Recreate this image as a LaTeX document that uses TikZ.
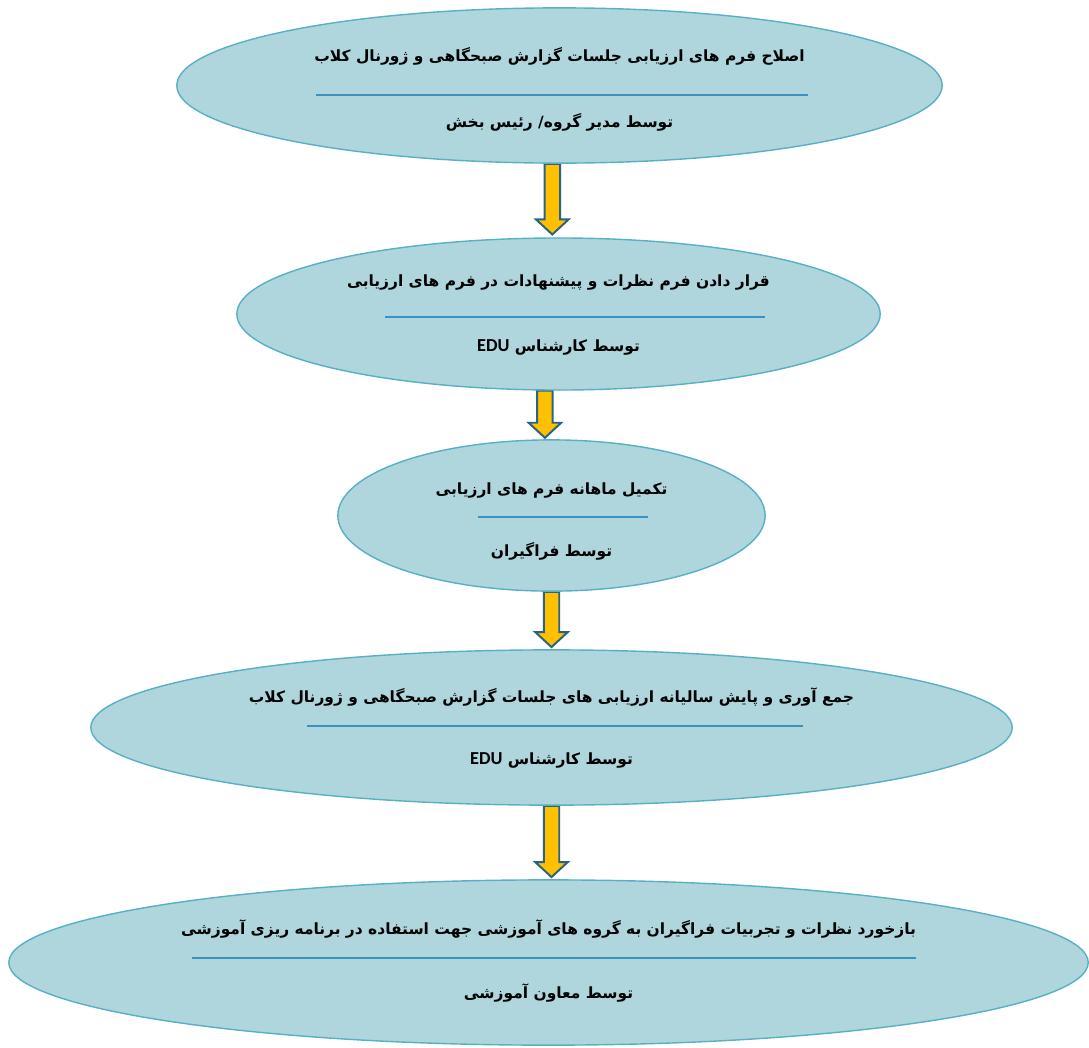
\documentclass[tikz,border=0pt]{standalone}
\usepackage{fontspec}
\usepackage{xcolor}
\usepackage{tikz}
\usetikzlibrary{shapes,arrows,positioning,calc,backgrounds}
\TeXXeTstate=1
\newfontfamily\farsi[Script=Arabic]{DejaVu Sans}
\newfontfamily\latinfont{Carlito}

\definecolor{stagefill}{RGB}{174,214,220}
\definecolor{stageedge}{RGB}{88,176,196}
\definecolor{sepblue}{RGB}{60,145,195}
\definecolor{arrowfill}{RGB}{255,192,0}
\definecolor{arrowedge}{RGB}{40,100,130}

\tikzset{
  stage/.style={ellipse, draw=stageedge, fill=stagefill, line width=1pt, inner sep=0pt},
  stagetext/.style={font=\farsi\bfseries\fontsize{11}{13}\selectfont, inner sep=0pt},
  sepline/.style={draw=sepblue, line width=0.9pt},
  flow/.style={draw=arrowedge, fill=arrowfill, line width=1.4pt, line join=miter,
    to path={let \p1=(\tikztostart), \p2=(\tikztotarget) in
      (\x1-5.5pt,\y1) -- (\x1-5.5pt,\y2+10.7pt) -- (\x1-11.6pt,\y2+10.7pt) -- (\x1,\y2)
      -- (\x1+11.6pt,\y2+10.7pt) -- (\x1+5.5pt,\y2+10.7pt) -- (\x1+5.5pt,\y1) -- cycle}}
}

\begin{document}
\begin{tikzpicture}[x=0.025cm, y=-0.025cm]
    \useasboundingbox (0,0) rectangle (1089,1047);

    % Stage 1
    \node[stage, minimum width=19.13cm, minimum height=3.88cm] (stage1) at (559.5,85.5) {};
    \node[stagetext] (stage1top) at ($(stage1)+(0,-29.5)$) {\beginR اصلاح فرم های ارزیابی جلسات گزارش صبحگاهی و ژورنال کلاب\endR};
    \draw[sepline] ($(stage1)+(-243.5,9.5)$) -- ($(stage1)+(248.5,9.5)$);
    \node[stagetext] (stage1bot) at ($(stage1)+(0,36.5)$) {\beginR توسط مدیر گروه/ رئیس بخش\endR};

    % Stage 2
    \node[stage, minimum width=16.08cm, minimum height=3.8cm] (stage2) at (558.5,314) {};
    \node[stagetext] (stage2top) at ($(stage2)+(0,-31)$) {\beginR قرار دادن فرم نظرات و پیشنهادات در فرم های ارزیابی\endR};
    \draw[sepline] ($(stage2)+(-173.5,3)$) -- ($(stage2)+(206.5,3)$);
    \node[stagetext] (stage2bot) at ($(stage2)+(0,33)$) {\beginR توسط کارشناس \beginL{\latinfont\bfseries\fontsize{13}{15}\selectfont EDU}\endL\endR};

    % Stage 3
    \node[stage, minimum width=10.68cm, minimum height=3.78cm] (stage3) at (551.5,515.5) {};
    \node[stagetext] (stage3top) at ($(stage3)+(0,-25.5)$) {\beginR تکمیل ماهانه فرم های ارزیابی\endR};
    \draw[sepline] ($(stage3)+(-73.5,1.5)$) -- ($(stage3)+(96.5,1.5)$);
    \node[stagetext] (stage3bot) at ($(stage3)+(0,35.5)$) {\beginR توسط فراگیران\endR};

    % Stage 4
    \node[stage, minimum width=23.03cm, minimum height=3.88cm] (stage4) at (551.5,727.5) {};
    \node[stagetext] (stage4top) at ($(stage4)+(0,-30.5)$) {\beginR جمع آوری و پایش سالیانه ارزیابی های جلسات گزارش صبحگاهی و ژورنال کلاب\endR};
    \draw[sepline] ($(stage4)+(-244.5,-1.5)$) -- ($(stage4)+(251.5,-1.5)$);
    \node[stagetext] (stage4bot) at ($(stage4)+(0,32.5)$) {\beginR توسط کارشناس \beginL{\latinfont\bfseries\fontsize{13}{15}\selectfont EDU}\endL\endR};

    % Stage 5
    \node[stage, minimum width=26.98cm, minimum height=4.13cm] (stage5) at (548.5,962.5) {};
    \node[stagetext] (stage5top) at ($(stage5)+(0,-33.5)$) {\beginR بازخورد نظرات و تجربیات فراگیران به گروه های آموزشی جهت استفاده در برنامه ریزی آموزشی\endR};
    \draw[sepline] ($(stage5)+(-356.5,-4.5)$) -- ($(stage5)+(367.5,-4.5)$);
    \node[stagetext] (stage5bot) at ($(stage5)+(0,30.5)$) {\beginR توسط معاون آموزشی\endR};

    % Arrows
    \begin{scope}[on background layer]
        \draw[flow] ([xshift=-0.18cm]stage1.south) to ([xshift=-0.18cm,yshift=2pt]stage2.north);
        \draw[flow] ([xshift=-0.34cm]stage2.south) to ([xshift=-0.34cm,yshift=1pt]stage3.north);
        \draw[flow] (stage3.south) to ([yshift=1.5pt]stage4.north);
        \draw[flow] (stage4.south) to ([yshift=1.5pt]stage5.north);
    \end{scope}
\end{tikzpicture}
\end{document}
